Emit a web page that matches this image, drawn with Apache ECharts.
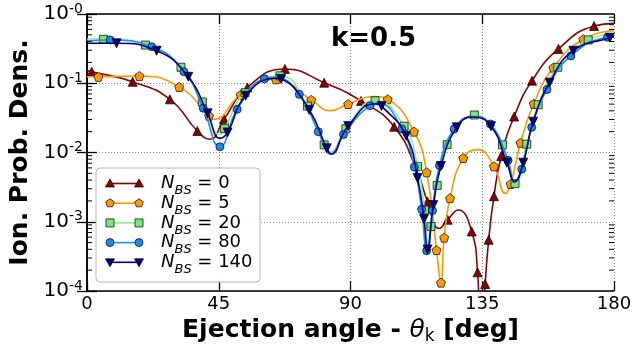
<!DOCTYPE html>
<html>
<head>
<meta charset="utf-8">
<script src="https://cdn.jsdelivr.net/npm/echarts@6/dist/echarts.min.js"></script>
<style>
html, body { margin: 0; padding: 0; background: #ffffff; }
#chart { width: 635px; height: 351px; }
</style>
</head>
<body>
<div id="chart"></div>
<script>
// Axis ticks
const xTicks = [0, 45, 90, 135, 180];
const yTickSup = ['-4', '-3', '-2', '-1', '-0'];

// Series: number of basis states N_BS
const seriesNames = ['0', '5', '20', '80', '140'];
const lineColors = ['#8B0000', '#FF9900', '#8CF08C', '#1E8CF0', '#00008B'];
const fillColors = ['#8B0000', '#FF9900', '#77E877', '#1E88E8', '#000080'];

// [angle (deg), probability density] at the marked samples
const n0Marks = [[1.6,0.147],[15.6,0.105],[28.3,0.0586],[37.7,0.0204],[46.8,0.0302],[54.8,0.0871],[67.6,0.161],[81.0,0.102],[93.6,0.0555],[104.9,0.0236],[116.3,0.00195],[123.2,0.00107],[131.4,0.000724],[133.4,0.000186],[136.0,0.000126],[137.2,0.00055],[139.0,0.00234],[141.5,0.00891],[145.9,0.0331],[152.0,0.109],[161.0,0.313],[173.2,0.671]];
const n5Marks = [[3.9,0.124],[17.9,0.127],[31.5,0.0883],[41.7,0.0339],[52.5,0.068],[64.5,0.114],[76.6,0.0575],[89.2,0.0501],[102.7,0.0586],[111.7,0.02],[116.0,0.00518],[119.4,0.000389],[120.9,0.000132],[122.0,0.000589],[124.0,0.00219],[128.5,0.00832],[139.0,0.00631],[144.7,0.00351],[148.1,0.0138],[152.6,0.0505],[159.3,0.168],[169.5,0.432]];
const n20Marks = [[5.6,0.432],[20.0,0.356],[32.1,0.170],[39.4,0.0537],[47.0,0.0221],[54.0,0.0731],[65.9,0.128],[75.3,0.0468],[81.0,0.0129],[88.4,0.022],[98.4,0.056],[108.3,0.024],[112.9,0.00631],[115.3,0.00148],[117.5,0.000851],[119.6,0.00335],[123.0,0.013],[132.3,0.0348],[141.9,0.0129],[146.2,0.00355],[150.2,0.0132],[154.1,0.049],[160.8,0.17],[171.2,0.422]];
const n80Marks = [[7.9,0.422],[22.1,0.337],[33.1,0.147],[39.7,0.0437],[45.4,0.0121],[51.3,0.0421],[60.6,0.116],[72.5,0.0692],[79.0,0.02],[87.6,0.0182],[96.7,0.0474],[107.5,0.0219],[111.8,0.00617],[114.3,0.00151],[116.0,0.000382],[118.0,0.00145],[120.4,0.0065],[125.4,0.0219],[137.8,0.0258],[143.8,0.0077],[148.5,0.00575],[151.9,0.0231],[157.1,0.081],[165.3,0.248],[177.8,0.46]];
const n140Marks = [[10.1,0.378],[23.8,0.295],[34.6,0.124],[41.2,0.0368],[48.0,0.0195],[54.2,0.0661],[66.3,0.115],[75.9,0.0411],[81.9,0.0115],[89.2,0.0242],[100.6,0.0468],[109.0,0.0174],[112.9,0.00427],[115.1,0.0011],[116.3,0.000398],[118.3,0.00174],[120.9,0.00638],[126.3,0.0231],[138.0,0.024],[143.4,0.00713],[149.0,0.00713],[152.4,0.0279],[158.0,0.102],[166.1,0.295],[178.6,0.455]];

// Extra unmarked samples of each curve (ends, extrema)
const n0Curve = [[0,0.151],[42.0,0.0155],[112.6,0.0056],[120.3,0.0008],[126.8,0.00148],[134.3,0.00003],[135.3,0.00003],[180,0.733]];
const n5Curve = [[0,0.124],[43.3,0.0302],[83.0,0.0402],[98.0,0.0645],[133.5,0.011],[142.9,0.00257],[180,0.575]];
const n20Curve = [[0,0.435],[45.4,0.0182],[83.2,0.0102],[116.6,0.00042],[180,0.513]];
const n80Curve = [[0,0.407],[64.0,0.121],[83.3,0.0095],[99.5,0.051],[131.8,0.033],[146.0,0.0037],[180,0.468]];
const n140Curve = [[0,0.378],[45.4,0.016],[64.5,0.118],[83.3,0.0095],[98.5,0.0505],[131.8,0.0325],[146.1,0.0038],[180,0.468]];

const allMarks = [n0Marks, n5Marks, n20Marks, n80Marks, n140Marks];
const allCurves = [n0Curve, n5Curve, n20Curve, n80Curve, n140Curve];

const pentagon = 'path://M0,-1 L0.951,-0.309 L0.588,0.809 L-0.588,0.809 L-0.951,-0.309 Z';
const symbols = ['triangle', pentagon, 'rect', 'circle', 'triangle'];
const symbolRot = [0, 0, 0, 0, 180];
const symbolSizes = [9, 9, 8, 8, 9];

// Logarithmic minor ticks 2..9 x 10^e
const minorTicks = [];
for (let e = -4; e < 0; e++) for (let k = 2; k <= 9; k++) minorTicks.push(k * Math.pow(10, e));

const FONT = 'DejaVu Sans';

function lineSeries(i) {
  const pts = allMarks[i].map(p => ({ value: p }))
    .concat(allCurves[i].map(p => ({ value: p, symbol: 'none' })));
  pts.sort((a, b) => a.value[0] - b.value[0]);
  return {
    type: 'line',
    name: 'N_BS = ' + seriesNames[i],
    data: pts,
    smooth: 0.5,
    symbol: symbols[i],
    symbolRotate: symbolRot[i],
    symbolSize: symbolSizes[i],
    showSymbol: true,
    showAllSymbol: true,
    clip: true,
    z: 2 + i,
    lineStyle: { color: lineColors[i], width: 1.6 },
    itemStyle: { color: fillColors[i], borderColor: '#000', borderWidth: 0.7 },
    emphasis: { disabled: true },
    animation: false
  };
}

// Legend drawn as graphic elements
function legendGraphics() {
  const g = [];
  g.push({ type: 'rect', shape: { x: 96, y: 168, width: 164, height: 114, r: 4 },
    style: { fill: 'rgba(255,255,255,0.92)', stroke: '#b4b4b4', lineWidth: 1 }, z: 50 });
  const rowY = [183.5, 203.2, 222.9, 242.6, 262.3];
  for (let i = 0; i < 5; i++) {
    const y = rowY[i];
    g.push({ type: 'line', shape: { x1: 110, y1: y, x2: 139, y2: y },
      style: { stroke: lineColors[i], lineWidth: 1.6 }, z: 51 });
    [110, 139].forEach(x => {
      let el;
      if (i === 0) el = { type: 'polygon', shape: { points: [[x, y - 4.5], [x + 4.5, y + 3.5], [x - 4.5, y + 3.5]] } };
      else if (i === 4) el = { type: 'polygon', shape: { points: [[x, y + 4.5], [x + 4.5, y - 3.5], [x - 4.5, y - 3.5]] } };
      else if (i === 1) el = { type: 'polygon', shape: { points: [[x, y - 4.5], [x + 4.3, y - 1.4], [x + 2.6, y + 3.6], [x - 2.6, y + 3.6], [x - 4.3, y - 1.4]] } };
      else if (i === 2) el = { type: 'rect', shape: { x: x - 4, y: y - 4, width: 8, height: 8 } };
      else el = { type: 'circle', shape: { cx: x, cy: y, r: 4 } };
      el.style = { fill: fillColors[i], stroke: '#000', lineWidth: 0.7 };
      el.z = 52;
      g.push(el);
    });
    g.push({ type: 'text', x: 161, y: y, z: 52,
      style: {
        text: '{n|N}{s|BS}{t| = ' + seriesNames[i] + '}',
        verticalAlign: 'middle',
        rich: {
          n: { fontFamily: FONT, fontStyle: 'italic', fontSize: 18, lineHeight: 22, verticalAlign: 'middle' },
          s: { fontFamily: FONT, fontStyle: 'italic', fontSize: 13, lineHeight: 22, verticalAlign: 'bottom', padding: [0, 0, -3, 0] },
          t: { fontFamily: FONT, fontSize: 18, lineHeight: 22, verticalAlign: 'middle' }
        },
        fill: '#000'
      } });
  }
  return g;
}

const chart = echarts.init(document.getElementById('chart'), null, { renderer: 'canvas' });

const axisLineStyle = { color: '#000', width: 1.5 };
const gridLine = { show: true, lineStyle: { color: '#8a8a8a', type: [1, 2], width: 1 } };

const option = {
  animation: false,
  backgroundColor: '#ffffff',
  grid: { left: 87, right: 21, top: 14, bottom: 60, containLabel: false, outerBoundsMode: 'none' },
  xAxis: [
    {
      type: 'value', min: xTicks[0], max: xTicks[xTicks.length - 1], interval: 45,
      position: 'bottom',
      axisLine: { show: true, lineStyle: axisLineStyle },
      axisTick: { show: true, inside: true, length: 10, lineStyle: { color: '#000', width: 1.3 } },
      axisLabel: { show: true, margin: 4, fontFamily: FONT, fontSize: 18, color: '#000' },
      splitLine: gridLine,
      name: '{b|Ejection angle - }{t|θ}{k|k}{b| [deg]}',
      nameLocation: 'middle',
      nameGap: 21,
      nameTextStyle: {
        rich: {
          b: { fontFamily: FONT, fontWeight: 'bold', fontSize: 25, lineHeight: 30, verticalAlign: 'middle', color: '#000' },
          t: { fontFamily: FONT, fontStyle: 'italic', fontSize: 25, lineHeight: 30, verticalAlign: 'middle', color: '#000' },
          k: { fontFamily: FONT, fontSize: 17, lineHeight: 30, verticalAlign: 'bottom', color: '#000', padding: [0, 0, 0, 0] }
        }
      }
    },
    {
      type: 'value', min: 0, max: 180, interval: 45, position: 'top',
      axisLine: { show: true, lineStyle: axisLineStyle },
      axisTick: { show: true, inside: true, length: 10, lineStyle: { color: '#000', width: 1.3 } },
      axisLabel: { show: false },
      splitLine: { show: false }
    }
  ],
  yAxis: [
    {
      type: 'log', logBase: 10, min: 1e-4, max: 1,
      position: 'left',
      axisLine: { show: true, lineStyle: axisLineStyle },
      axisTick: { show: true, inside: true, length: 10, lineStyle: { color: '#000', width: 1.3 } },
      minorTick: { show: false },
      axisLabel: {
        show: true, margin: 4,
        formatter: function (v) {
          const e = Math.round(Math.log10(v));
          return '{b|10}{s|' + yTickSup[e + 4] + '}';
        },
        rich: {
          b: { fontFamily: FONT, fontSize: 20, lineHeight: 24, verticalAlign: 'middle', color: '#000' },
          s: { fontFamily: FONT, fontSize: 14, lineHeight: 24, verticalAlign: 'top', color: '#000', padding: [0, 0, 0, 0] }
        }
      },
      splitLine: gridLine,
      name: 'Ion. Prob. Dens.',
      nameLocation: 'middle',
      nameGap: 47,
      nameRotate: 90,
      nameTextStyle: { fontFamily: FONT, fontWeight: 'bold', fontSize: 25, color: '#000' }
    },
    {
      type: 'log', logBase: 10, min: 1e-4, max: 1,
      position: 'right',
      axisLine: { show: true, lineStyle: axisLineStyle },
      axisTick: { show: true, inside: true, length: 10, lineStyle: { color: '#000', width: 1.3 } },
      axisLabel: { show: false },
      splitLine: { show: false }
    }
  ],
  series: [
    {
      type: 'custom',
      xAxisIndex: 0, yAxisIndex: 0,
      data: minorTicks.map(v => [0, v]),
      silent: true, clip: false, z: 20,
      renderItem: function (params, api) {
        const v = api.value(1);
        const l = api.coord([0, v]);
        const r = api.coord([180, v]);
        return {
          type: 'group',
          children: [
            { type: 'line', shape: { x1: l[0], y1: l[1], x2: l[0] + 5, y2: l[1] }, style: { stroke: '#000', lineWidth: 1 } },
            { type: 'line', shape: { x1: r[0] - 5, y1: r[1], x2: r[0], y2: r[1] }, style: { stroke: '#000', lineWidth: 1 } }
          ]
        };
      }
    },
    lineSeries(0), lineSeries(1), lineSeries(2), lineSeries(3), lineSeries(4)
  ],
  graphic: [
    { type: 'text', x: 331, y: 39, z: 60,
      style: { text: 'k=0.5', fontFamily: FONT, fontWeight: 'bold', fontSize: 26, fill: '#000', verticalAlign: 'middle' } }
  ].concat(legendGraphics())
};

chart.setOption(option);
</script>
</body>
</html>
